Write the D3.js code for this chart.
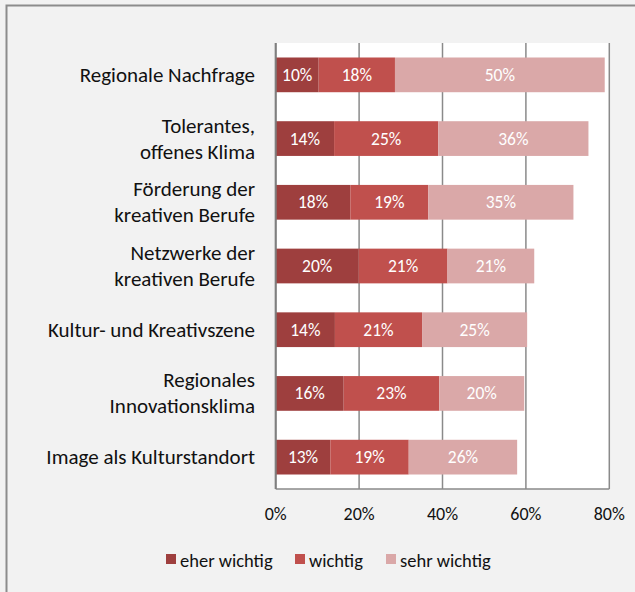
<!DOCTYPE html>
<html>
<head>
<meta charset="utf-8">
<script src="https://cdn.jsdelivr.net/npm/d3@7"></script>
<style>
  body { margin: 0; background: #f2f2f2; }
  svg { display: block; font-family: Carlito, Calibri, Lato, sans-serif; }
</style>
</head>
<body>
<svg id="chart"></svg>
<script>
// categories (top to bottom), label lines split by "\n"
const categories = [
  "Regionale Nachfrage",
  "Tolerantes,\noffenes Klima",
  "Förderung der\nkreativen Berufe",
  "Netzwerke der\nkreativen Berufe",
  "Kultur- und Kreativszene",
  "Regionales\nInnovationsklima",
  "Image als Kulturstandort"
];
const seriesNames = ["eher wichtig", "wichtig", "sehr wichtig"];
// shares in percent
const eherWichtig = [10.3, 14.0, 17.9, 19.9, 14.2, 16.3, 13.1];
const wichtig = [18.3, 25.0, 18.7, 21.3, 20.9, 22.9, 18.8];
const sehrWichtig = [50.3, 36.0, 34.8, 20.8, 25.2, 20.4, 26.0];
const xTicks = [0, 20, 40, 60, 80];

const colors = ["#9e3f3e", "#c0504d", "#daa8a8"];

const width = 635, height = 592;
const svg = d3.select("#chart").attr("width", width).attr("height", height);

// outer chart frame (right/bottom edges fall outside the picture)
svg.append("rect")
  .attr("x", 6.5).attr("y", 5.5)
  .attr("width", 640).attr("height", 600)
  .attr("fill", "#f2f2f2")
  .attr("stroke", "#8c8c8c")
  .attr("stroke-width", 2);

const x = d3.scaleLinear().domain([0, 80]).range([275.7, 609.3]);
const y = d3.scaleBand().domain(categories).range([43, 489])
  .paddingInner(0.455).paddingOuter(0.2275);

// plot area
svg.append("rect")
  .attr("x", x(0)).attr("y", 43)
  .attr("width", x(80) - x(0)).attr("height", 489 - 43)
  .attr("fill", "white");

// gridlines
svg.append("g")
  .selectAll("line")
  .data(xTicks)
  .join("line")
  .attr("x1", d => x(d)).attr("x2", d => x(d))
  .attr("y1", 43).attr("y2", 489)
  .attr("stroke", "#8a8a8a")
  .attr("stroke-width", 1.5);

// bottom border
svg.append("line")
  .attr("x1", x(0)).attr("x2", x(80))
  .attr("y1", 489).attr("y2", 489)
  .attr("stroke", "#8a8a8a")
  .attr("stroke-width", 1.5);

// stack the data
const table = categories.map((c, i) => ({
  cat: c, "eher wichtig": eherWichtig[i], "wichtig": wichtig[i], "sehr wichtig": sehrWichtig[i]
}));
const stacked = d3.stack().keys(seriesNames)(table);

const layers = svg.append("g")
  .selectAll("g")
  .data(stacked)
  .join("g")
  .attr("fill", (d, i) => colors[i]);

layers.selectAll("rect")
  .data(d => d)
  .join("rect")
  .attr("x", d => x(d[0]))
  .attr("y", d => y(d.data.cat))
  .attr("width", d => x(d[1]) - x(d[0]))
  .attr("height", y.bandwidth());

layers.selectAll("text")
  .data(d => d)
  .join("text")
  .attr("x", d => (x(d[0]) + x(d[1])) / 2)
  .attr("y", d => y(d.data.cat) + y.bandwidth() / 2)
  .attr("fill", "white")
  .attr("font-size", 17.5)
  .attr("text-anchor", "middle")
  .attr("dominant-baseline", "central")
  .text(d => Math.round(d[1] - d[0]) + "%");

// left axis line
svg.append("line")
  .attr("x1", x(0)).attr("x2", x(0))
  .attr("y1", 43).attr("y2", 489)
  .attr("stroke", "#7f7f7f")
  .attr("stroke-width", 2);

// category labels
const catG = svg.append("g");
categories.forEach(c => {
  const lines = c.split("\n");
  const cy = y(c) + y.bandwidth() / 2;
  const lh = 26;
  const t = catG.append("text")
    .attr("text-anchor", "end")
    .attr("font-size", 21)
    .attr("fill", "#111");
  lines.forEach((l, j) => {
    t.append("tspan")
      .attr("x", 255)
      .attr("y", cy + (j - (lines.length - 1) / 2) * lh)
      .attr("dominant-baseline", "central")
      .text(l);
  });
});

// x tick labels
svg.append("g")
  .selectAll("text")
  .data(xTicks)
  .join("text")
  .attr("x", d => x(d))
  .attr("y", 514)
  .attr("text-anchor", "middle")
  .attr("dominant-baseline", "central")
  .attr("font-size", 18)
  .attr("fill", "#111")
  .text(d => d + "%");

// legend
const legendX = [166, 295, 386];
const legend = svg.append("g")
  .selectAll("g")
  .data(seriesNames)
  .join("g")
  .attr("transform", (d, i) => `translate(${legendX[i]},554)`);
legend.append("rect")
  .attr("width", 10).attr("height", 10)
  .attr("fill", (d, i) => colors[i]);
legend.append("text")
  .attr("x", 14).attr("y", 6)
  .attr("dominant-baseline", "central")
  .attr("font-size", 18.5)
  .attr("fill", "#111")
  .text(d => d);
</script>
</body>
</html>
